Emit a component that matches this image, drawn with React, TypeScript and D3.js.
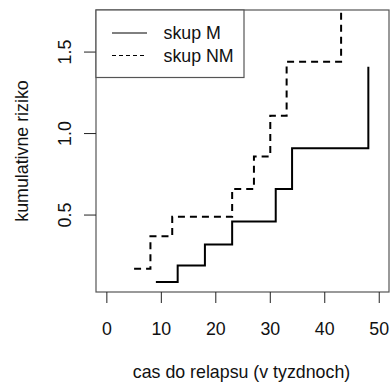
import React from "react";
import * as d3 from "d3";

// kumulativne riziko podla skupiny (Nelson-Aalen, odcitane z obrazka)
const timesM = [9, 13, 18, 23, 31, 34, 48];
const hazM = [0.09, 0.19, 0.32, 0.46, 0.66, 0.91, 1.41];
const timesNM = [5, 8, 12, 23, 27, 30, 33, 43];
const hazNM = [0.17, 0.37, 0.49, 0.66, 0.86, 1.11, 1.44, 1.94];

const xTicks = [0, 10, 20, 30, 40, 50];
const yTicks = [0.5, 1.0, 1.5];
const legendLabels = ["skup M", "skup NM"];

const W = 391;
const H = 385;
const BOX = { left: 96, right: 389, top: 10, bottom: 292 };
const FONT = "'Liberation Sans', Arial, Helvetica, sans-serif";
const FS = 17.8;

// R style axis range: data range padded by 4% on each side
const rPad = (lo: number, hi: number): [number, number] => {
  const d = (hi - lo) * 0.04;
  return [lo - d, hi + d];
};

export default function App() {
  const x = d3
    .scaleLinear()
    .domain(rPad(0, 49.8))
    .range([BOX.left, BOX.right]);
  const y = d3
    .scaleLinear()
    .domain(rPad(0.092, 1.694))
    .range([BOX.bottom, BOX.top]);

  const line = d3
    .line<[number, number]>()
    .x((d) => x(d[0]))
    .y((d) => y(d[1]))
    .curve(d3.curveStepAfter);

  const pathM = line(timesM.map((t, i) => [t, hazM[i]]));
  const pathNM = line(timesNM.map((t, i) => [t, hazNM[i]]));

  return (
    <svg
      width={W}
      height={H}
      style={{ position: "absolute", left: 0, top: 0, background: "white" }}
      fontFamily={FONT}
      fontSize={FS}
    >
      <defs>
        <clipPath id="plotArea">
          <rect
            x={BOX.left}
            y={BOX.top}
            width={BOX.right - BOX.left}
            height={BOX.bottom - BOX.top}
          />
        </clipPath>
      </defs>

      {/* krivky */}
      <g clipPath="url(#plotArea)" fill="none" stroke="#000">
        <path d={pathM ?? ""} strokeWidth={2} />
        <path d={pathNM ?? ""} strokeWidth={2} strokeDasharray="7,5" />
      </g>

      {/* ram */}
      <rect
        x={BOX.left}
        y={BOX.top}
        width={BOX.right - BOX.left}
        height={BOX.bottom - BOX.top}
        fill="none"
        stroke="#555"
        strokeWidth={1.2}
      />

      {/* os x */}
      <g>
        {xTicks.map((t) => (
          <g key={t}>
            <line
              x1={x(t)}
              x2={x(t)}
              y1={BOX.bottom}
              y2={BOX.bottom + 11}
              stroke="#222"
            />
            <text x={x(t)} y={335} textAnchor="middle" fill="#111">
              {t}
            </text>
          </g>
        ))}
        <text
          x={(BOX.left + BOX.right) / 2 - 1}
          y={378}
          textAnchor="middle"
          fill="#111"
        >
          cas do relapsu (v tyzdnoch)
        </text>
      </g>

      {/* os y */}
      <g>
        {yTicks.map((t) => (
          <g key={t}>
            <line
              x1={BOX.left - 12}
              x2={BOX.left}
              y1={y(t)}
              y2={y(t)}
              stroke="#222"
            />
            <text
              transform={`translate(71,${y(t)}) rotate(-90)`}
              textAnchor="middle"
              fill="#111"
            >
              {t.toFixed(1)}
            </text>
          </g>
        ))}
        <text
          transform={`translate(28,${(BOX.top + BOX.bottom) / 2}) rotate(-90)`}
          textAnchor="middle"
          fill="#111"
        >
          kumulativne riziko
        </text>
      </g>

      {/* legenda */}
      <g>
        <rect
          x={BOX.left}
          y={BOX.top}
          width={148}
          height={67.5}
          fill="white"
          stroke="#555"
          strokeWidth={1.2}
        />
        {legendLabels.map((lab, i) => {
          const ly = 33 + i * 22.5;
          return (
            <g key={lab}>
              <line
                x1={112}
                x2={147}
                y1={ly}
                y2={ly}
                stroke="#000"
                strokeWidth={1}
                strokeDasharray={i === 1 ? "4,3" : undefined}
              />
              <text x={163.5} y={ly} dy="0.36em" fill="#111">
                {lab}
              </text>
            </g>
          );
        })}
      </g>
    </svg>
  );
}
